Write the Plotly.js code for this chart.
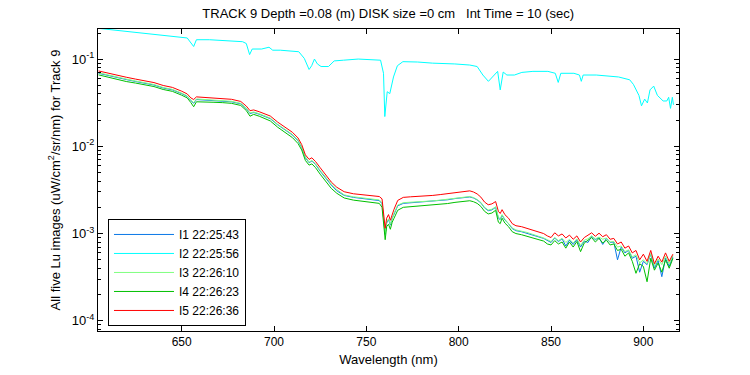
<!DOCTYPE html>
<html>
<head>
<meta charset="utf-8">
<script src="https://cdn.plot.ly/plotly-3.0.1.min.js"></script>
<style>html,body{margin:0;padding:0;background:#fff;}#chart{width:750px;height:375px;}</style>
</head>
<body>
<div id="chart"></div>
<script>
// Wavelength grid (nm) for I1, I3, I4, I5
const wavelengths = [605,610,615,620,625,630,635,640,645,650,
  653,655,656.5,658,662,667,672,677,682,685,
  687,689,692,695,698,702,706,710,713,715,
  717,719,720.5,722.5,725,728,731,734,738,743,
  748,753,757,758.5,759.5,760.2,761,762,763,764,
  765,767,770,774,778,782,786,790,794,798,
  802,806,808,810,812,814,816,818,820,821.5,
  822.5,823.5,825,827,829,831,834,837,840,843,
  846,848,850,852,854,856,858,860,862,864,
  866,868,870,872,874,876,878,880,882,884,
  886,888,890,892,894,896,898,900,902,904,
  906,908,910,912,914,916];

const I1 = [0.0690,0.0650,0.0612,0.0585,0.0556,0.0528,0.0506,0.0468,0.0445,0.0403,
  0.0375,0.0336,0.0312,0.0345,0.0342,0.0336,0.0332,0.0325,0.0308,0.0271,
  0.0238,0.0245,0.0234,0.0222,0.0208,0.0177,0.0153,0.0135,0.0116,0.0097,
  0.0074,0.0065,0.0068,0.0062,0.0052,0.0043,0.0036,0.0031,0.00274,0.00260,
  0.00251,0.00243,0.00239,0.00220,0.00125,0.00098,0.00132,0.00145,0.00125,0.00150,
  0.00166,0.00208,0.00222,0.00225,0.00227,0.00230,0.00233,0.00239,0.00244,0.00252,
  0.00257,0.00263,0.00256,0.00243,0.00225,0.00197,0.00183,0.00187,0.00200,0.00150,
  0.00145,0.00162,0.00143,0.00130,0.00114,0.00108,0.00105,0.00101,0.00096,0.00092,
  0.00088,0.00083,0.00079,0.00089,0.00081,0.00087,0.00072,0.00084,0.00075,0.00085,
  0.00070,0.00082,0.00079,0.00093,0.00085,0.00090,0.00075,0.00088,0.00079,0.00080,
  0.00050,0.00070,0.00060,0.00064,0.00052,0.00055,0.00036,0.00048,0.00044,0.00058,
  0.00040,0.00049,0.00032,0.00052,0.00042,0.00054];

const I3 = [0.0700,0.0658,0.0620,0.0592,0.0563,0.0535,0.0513,0.0474,0.0451,0.0409,
  0.0380,0.0340,0.0318,0.0350,0.0346,0.0340,0.0336,0.0329,0.0312,0.0275,
  0.0242,0.0248,0.0237,0.0225,0.0211,0.0179,0.0155,0.0137,0.0118,0.0099,
  0.0076,0.0066,0.0069,0.0063,0.0053,0.0044,0.0037,0.0032,0.00278,0.00264,
  0.00255,0.00247,0.00243,0.00225,0.00128,0.00100,0.00135,0.00148,0.00128,0.00153,
  0.00170,0.00212,0.00226,0.00229,0.00231,0.00234,0.00237,0.00242,0.00247,0.00255,
  0.00260,0.00266,0.00259,0.00246,0.00228,0.00200,0.00186,0.00190,0.00203,0.00154,
  0.00148,0.00165,0.00146,0.00132,0.00116,0.00110,0.00107,0.00103,0.00098,0.00094,
  0.00089,0.00085,0.00081,0.00090,0.00083,0.00088,0.00079,0.00086,0.00078,0.00087,
  0.00073,0.00084,0.00087,0.00094,0.00087,0.00091,0.00086,0.00089,0.00080,0.00081,
  0.00070,0.00072,0.00062,0.00065,0.00054,0.00057,0.00046,0.00050,0.00045,0.00059,
  0.00043,0.00051,0.00044,0.00055,0.00045,0.00056];

const I4 = [0.0662,0.0621,0.0587,0.0555,0.0533,0.0506,0.0486,0.0450,0.0428,0.0387,
  0.0360,0.0318,0.0285,0.0325,0.0326,0.0321,0.0318,0.0312,0.0295,0.0258,
  0.0222,0.0233,0.0222,0.0210,0.0196,0.0166,0.0143,0.0126,0.0108,0.0091,
  0.0069,0.0061,0.0063,0.0057,0.0048,0.0040,0.0033,0.0029,0.00256,0.00242,
  0.00233,0.00226,0.00222,0.00200,0.00110,0.00085,0.00120,0.00128,0.00112,0.00135,
  0.00150,0.00185,0.00200,0.00203,0.00205,0.00208,0.00211,0.00216,0.00221,0.00228,
  0.00232,0.00238,0.00232,0.00222,0.00205,0.00180,0.00168,0.00172,0.00185,0.00135,
  0.00130,0.00150,0.00132,0.00120,0.00105,0.00100,0.00097,0.00093,0.00089,0.00085,
  0.00082,0.00076,0.00074,0.00083,0.00076,0.00080,0.00068,0.00080,0.00070,0.00081,
  0.00062,0.00078,0.00084,0.00090,0.00080,0.00088,0.00078,0.00084,0.00074,0.00076,
  0.00064,0.00066,0.00055,0.00060,0.00048,0.00035,0.00045,0.00042,0.00028,0.00052,
  0.00038,0.00046,0.00036,0.00050,0.00040,0.00052];

const I5 = [0.0734,0.0690,0.0652,0.0622,0.0592,0.0562,0.0540,0.0500,0.0475,0.0430,
  0.0400,0.0360,0.0345,0.0370,0.0364,0.0358,0.0354,0.0347,0.0328,0.0290,
  0.0257,0.0262,0.0250,0.0237,0.0223,0.0190,0.0164,0.0145,0.0125,0.0105,
  0.0080,0.0071,0.0074,0.0067,0.0057,0.0047,0.0039,0.0034,0.00302,0.00286,
  0.00278,0.00270,0.00266,0.00250,0.00145,0.00115,0.00150,0.00165,0.00142,0.00170,
  0.00190,0.00240,0.00260,0.00264,0.00266,0.00270,0.00274,0.00280,0.00287,0.00296,
  0.00302,0.00309,0.00300,0.00285,0.00262,0.00230,0.00214,0.00219,0.00233,0.00180,
  0.00170,0.00188,0.00165,0.00150,0.00130,0.00123,0.00120,0.00115,0.00110,0.00105,
  0.00100,0.00094,0.00090,0.00102,0.00094,0.00099,0.00089,0.00096,0.00086,0.00094,
  0.00080,0.00090,0.00096,0.00102,0.00093,0.00101,0.00092,0.00097,0.00086,0.00088,
  0.00076,0.00080,0.00068,0.00072,0.00060,0.00064,0.00050,0.00058,0.00048,0.00064,
  0.00045,0.00055,0.00047,0.00060,0.00048,0.00058];

// I2 has its own wavelength samples
const wavelengthsI2 = [605,610,625,645,653,656.5,658,665,683,685,
  686.8,688.2,693.3,697.3,699.3,703.4,713.4,716.4,719,720.4,
  721.9,723.5,725.5,729.5,732.6,737.6,745.6,757.7,759.3,760,
  761.3,762.7,764.7,766.8,769.8,777.8,785.9,797.9,806,810,
  813.1,816.1,818.1,821.1,822.5,824.1,826.1,830.2,834.2,840.2,
  848.3,852.3,853.9,855.3,862.4,865.4,866.4,867.4,874.5,886.6,
  892.6,894.6,897.6,899,900.7,902.2,903.6,905.6,907.6,910.7,
  912.7,913.7,914.7,915.7,916.3];
const I2 = [0.226,0.2198,0.2037,0.1845,0.1754,0.140,0.1675,0.1675,0.159,0.1514,
  0.113,0.131,0.131,0.1374,0.127,0.127,0.122,0.1023,0.0763,0.0842,
  0.1005,0.0883,0.0825,0.0825,0.0957,0.0975,0.1005,0.0975,0.069,0.022,
  0.0424,0.0403,0.0626,0.0842,0.0938,0.0929,0.0902,0.0883,0.0858,0.0825,
  0.0659,0.0558,0.0626,0.0726,0.0445,0.0713,0.0659,0.0659,0.0706,0.0726,
  0.0726,0.069,0.0542,0.069,0.069,0.0659,0.0558,0.0659,0.0659,0.0626,
  0.0581,0.0515,0.0385,0.0292,0.0349,0.0315,0.0445,0.0492,0.0385,0.0332,
  0.0332,0.0366,0.0273,0.0366,0.030];

const seriesNames = ['I1 22:25:43','I2 22:25:56','I3 22:26:10','I4 22:26:23','I5 22:26:36'];
const seriesColors = ['#0a78e6','#00ffff','#80ff80','#00c000','#ff0000'];
const xTickVals = [650,700,750,800,850,900];
const yTickVals = [1e-4,1e-3,1e-2,1e-1];
const yTickText = ['10<sup>-4</sup>','10<sup>-3</sup>','10<sup>-2</sup>','10<sup>-1</sup>'];

const xs = [wavelengths, wavelengthsI2, wavelengths, wavelengths, wavelengths];
const ys = [I1, I2, I3, I4, I5];
const traces = ys.map((y,i)=>({
  x: xs[i], y: y, type:'scatter', mode:'lines', name: seriesNames[i],
  line:{color: seriesColors[i], width:1}
}));

const font = 'Liberation Sans, Arial, Helvetica, sans-serif';
const layout = {
  width:750, height:375,
  margin:{l:98, r:71, t:29, b:44},
  paper_bgcolor:'#fff', plot_bgcolor:'#fff',
  font:{family:font, size:12, color:'#000'},
  title:{text:'TRACK 9 Depth =0.08 (m) DISK size =0 cm   Int Time = 10 (sec)',
    font:{family:font, size:13, color:'#000'}, x:0.5176, xanchor:'center', y:0.965, yanchor:'middle', yref:'container'},
  showlegend:true,
  legend:{x:0.0172, y:0.371, xanchor:'left', yanchor:'top', bgcolor:'#fff', itemwidth:60,
    bordercolor:'#000', borderwidth:1, font:{family:font, size:12, color:'#000'}, tracegroupgap:0},
  xaxis:{range:[604.7,919.3], tickvals:xTickVals, ticks:'inside', ticklen:5, tickcolor:'#000',
    showline:true, linecolor:'#000', linewidth:1, mirror:'allticks', showgrid:false, zeroline:false,
    tickfont:{family:font, size:12}, title:{text:'Wavelength (nm)', font:{family:font, size:13}, standoff:6}},
  yaxis:{type:'log', range:[-4.118,-0.653], tickvals:yTickVals, ticktext:yTickText, ticks:'inside', ticklen:5,
    tickcolor:'#000', showline:true, linecolor:'#000', linewidth:1, mirror:'allticks', showgrid:false, zeroline:false,
    tickfont:{family:font, size:13},
    minor:{ticks:'inside', ticklen:3, tickcolor:'#000', tickvals:[2e-5,3e-5,4e-5,5e-5,6e-5,7e-5,8e-5,9e-5,
      2e-4,3e-4,4e-4,5e-4,6e-4,7e-4,8e-4,9e-4,2e-3,3e-3,4e-3,5e-3,6e-3,7e-3,8e-3,9e-3,
      2e-2,3e-2,4e-2,5e-2,6e-2,7e-2,8e-2,9e-2,2e-1,3e-1], showgrid:false},
    title:{text:'All five Lu images (uW/cm<sup>2</sup>/sr/nm) for Track 9', font:{family:font, size:13}, standoff:8}}
};
Plotly.newPlot('chart', traces, layout, {displayModeBar:false, staticPlot:true});
</script>
</body>
</html>
